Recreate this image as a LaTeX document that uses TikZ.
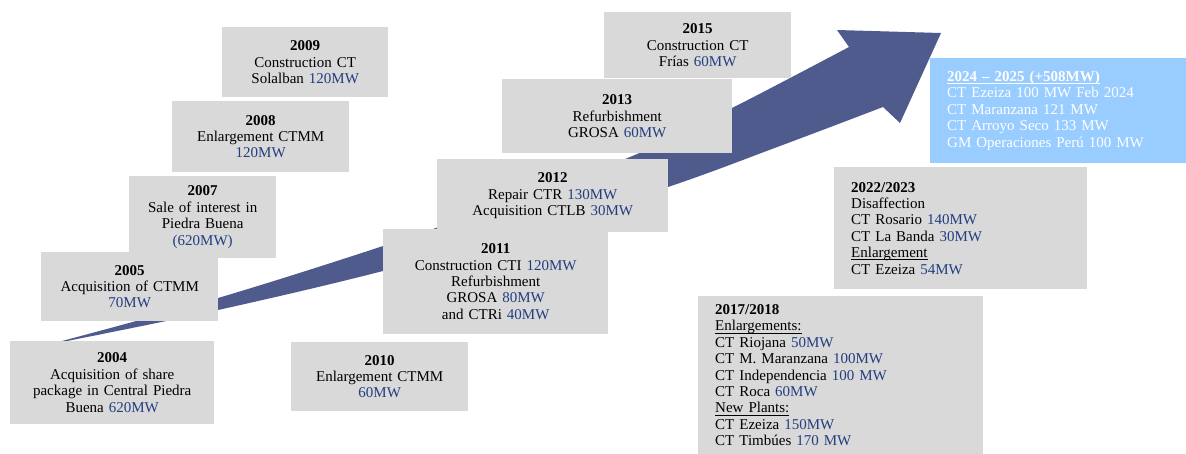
\documentclass[tikz,border=0pt]{standalone}
\usepackage{amsmath}
\usepackage{fontspec}
\setmainfont{Liberation Serif}
\usepackage{xcolor}
\definecolor{boxgray}{HTML}{D9D9D9}
\definecolor{mwblue}{HTML}{223E80}
\definecolor{arrowblue}{HTML}{4F5B8D}
\definecolor{skyblue}{HTML}{99CCFF}
\newcommand{\mw}[1]{\textcolor{mwblue}{#1}}
\newcommand{\ulhead}[1]{\underline{\smash[b]{#1}}}

\begin{document}
\begin{tikzpicture}[x=1pt,y=-1pt,
	yearbox/.style 2 args={fill=boxgray, anchor=north west, inner sep=0pt, minimum width=#1, text width=#1, minimum height=#2, align=center, font=\fontsize{15}{16.4}\selectfont},
	listbox/.style 2 args={fill=boxgray, anchor=north west, inner xsep=17pt, inner ysep=0pt, text width=#1, minimum height=#2, align=left, font=\fontsize{15}{16.4}\selectfont}]
	\useasboundingbox (0,0) rectangle (1186,453);
	\fill[arrowblue] plot[smooth, tension=0.6] coordinates {(62,342) (218,310) (383,271) (530,230) (668,187) (780,146) (883,107)}
		-- (900,123) -- (941,33) -- (837,30) -- (849,47)
		-- plot[smooth, tension=0.6] coordinates {(849,47) (732,108) (630,157) (500,205) (383,246) (218,298) (62,341)} -- cycle;
	\node[yearbox={204pt}{83pt}] (y2004) at (10,341) {\textbf{2004}\\Acquisition of share\\package in Central Piedra\\Buena \mw{620MW}};
	\node[yearbox={147pt}{82pt}] (y2007) at (129,176) {\textbf{2007}\\Sale of interest in\\Piedra Buena\\\mw{(620MW)}};
	\node[yearbox={177pt}{69pt}] (y2005) at (41,252) {\textbf{2005}\\Acquisition of CTMM\\\mw{70MW}};
	\node[yearbox={177pt}{71pt}] (y2008) at (172,101) {\textbf{2008}\\Enlargement CTMM\\\mw{120MW}};
	\node[yearbox={166pt}{70pt}] (y2009) at (222,27) {\textbf{2009}\\Construction CT\\Solalban \mw{120MW}};
	\node[yearbox={177pt}{69pt}] (y2010) at (291,342) {\textbf{2010}\\Enlargement CTMM\\\mw{60MW}};
	\node[yearbox={231pt}{73pt}] (y2012) at (437,159) {\textbf{2012}\\Repair CTR \mw{130MW}\\Acquisition CTLB \mw{30MW}};
	\node[yearbox={225pt}{105pt}] (y2011) at (383,229) {\textbf{2011}\\Construction CTI \mw{120MW}\\Refurbishment\\GROSA \mw{80MW}\\and CTRi \mw{40MW}};
	\node[yearbox={230pt}{74pt}] (y2013) at (502,79) {\textbf{2013}\\Refurbishment\\GROSA \mw{60MW}};
	\node[yearbox={187pt}{66pt}] (y2015) at (604,12) {\textbf{2015}\\Construction CT\\Frías \mw{60MW}};
	\node[listbox={251pt}{158pt}] (y2017) at (698,296) {\textbf{2017/2018}\\\ulhead{Enlargements:}\\CT Riojana \mw{50MW}\\CT M. Maranzana \mw{100MW}\\CT Independencia \mw{100 MW}\\CT Roca \mw{60MW}\\\ulhead{New Plants:}\\CT Ezeiza \mw{150MW}\\CT Timbúes \mw{170 MW}};
	\node[listbox={219pt}{122pt}] (y2022) at (834,167) {\textbf{2022/2023}\\Disaffection\\CT Rosario \mw{140MW}\\CT La Banda \mw{30MW}\\\ulhead{Enlargement}\\CT Ezeiza \mw{54MW}};
	\node[listbox={222pt}{105pt}, fill=skyblue, text=white] (y2024) at (930,58) {\ulhead{\textbf{2024 – 2025 (+508MW)}}\\CT Ezeiza 100 MW Feb 2024\\CT Maranzana 121 MW\\CT Arroyo Seco 133 MW\\GM Operaciones Perú 100 MW};
\end{tikzpicture}
\end{document}
